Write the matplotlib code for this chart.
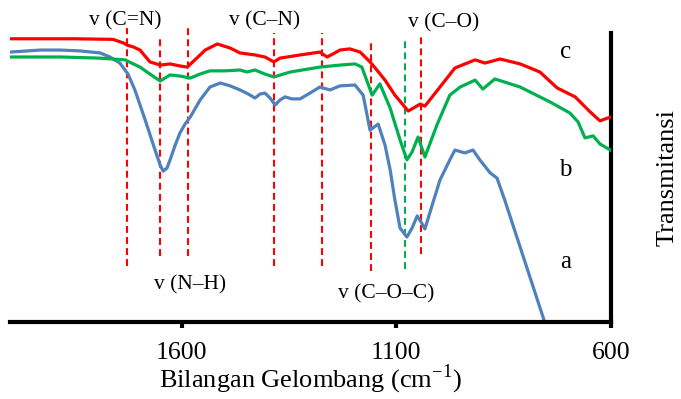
import numpy as np
import matplotlib
matplotlib.use('Agg')
import matplotlib.pyplot as plt

plt.rcParams['font.family'] = ['Liberation Serif', 'DejaVu Serif']
plt.rcParams['mathtext.fontset'] = 'custom'
plt.rcParams['mathtext.rm'] = 'Liberation Serif'

# Spektrum FTIR, transmitansi dalam satuan relatif
wn_c = [2000, 1850, 1760, 1735, 1727, 1713, 1697, 1674, 1650, 1627, 1604, 1587, 1569,
        1545, 1517, 1487, 1464, 1429, 1406, 1385, 1371, 1324, 1278, 1261, 1243, 1231,
        1208, 1184, 1161, 1149, 1126, 1103, 1072, 1044, 1033, 998, 963, 916, 893, 858,
        811, 765, 725, 683, 648, 625, 601]
t_c = [98.0, 98.0, 97.8, 96.5, 95.8, 95.2, 94.1, 90.0, 88.9, 89.3, 88.6, 88.2, 90.7,
       94.1, 96.2, 94.8, 93.1, 92.4, 91.7, 90.0, 91.3, 92.4, 93.4, 91.7, 93.1, 94.1,
       94.5, 93.4, 90.0, 87.9, 83.7, 78.5, 73.0, 75.4, 74.7, 81.3, 87.9, 90.7, 89.6, 91.0,
       89.3, 86.5, 81.0, 77.9, 72.7, 69.6, 70.9]

wn_b = [2000, 1883, 1790, 1732, 1697, 1674, 1650, 1627, 1604, 1580, 1557, 1534, 1499,
        1464, 1448, 1429, 1406, 1385, 1347, 1278, 1231, 1196, 1180, 1156, 1138, 1114,
        1091, 1075, 1063, 1049, 1033, 1005, 975, 951, 916, 898, 870, 811, 741, 695, 676,
        660, 641, 625, 601]
t_b = [91.7, 91.7, 91.3, 90.7, 88.2, 85.8, 83.4, 85.5, 85.1, 84.4, 85.8, 86.9, 86.9,
       87.2, 86.5, 87.2, 85.8, 84.8, 86.5, 88.2, 88.9, 89.3, 88.2, 78.5, 82.4, 74.0,
       63.0, 56.1, 58.8, 64.0, 57.1, 68.2, 78.5, 81.3, 83.7, 80.6, 84.1, 81.3, 76.1, 72.3,
       69.2, 63.7, 64.4, 61.6, 59.5]

wn_a = [2000, 1930, 1883, 1837, 1790, 1767, 1744, 1725, 1709, 1685, 1662, 1650, 1643,
        1634, 1627, 1615, 1604, 1592, 1580, 1557, 1534, 1510, 1487, 1464, 1445, 1429,
        1417, 1406, 1394, 1382, 1371, 1359, 1343, 1324, 1301, 1278, 1254, 1231, 1196,
        1177, 1161, 1142, 1126, 1114, 1103, 1091, 1075, 1063, 1051, 1042, 1033, 1016,
        998, 975, 963, 940, 921, 905, 881, 865, 847, 754, 742]
t_a = [93.4, 94.1, 94.1, 93.8, 93.1, 91.7, 89.6, 85.8, 80.3, 69.9, 59.5, 54.3, 52.2,
       53.3, 56.1, 61.2, 65.4, 68.5, 70.9, 76.8, 81.3, 82.7, 81.7, 80.3, 78.9, 77.5,
       78.9, 79.2, 77.5, 75.1, 76.8, 77.9, 77.2, 77.2, 79.2, 81.3, 80.3, 81.7, 82.0,
       78.5, 66.4, 68.5, 61.2, 52.6, 42.2, 32.5, 29.4, 32.5, 36.7, 34.6, 32.2, 40.5,
       49.1, 56.1, 59.5, 58.5, 59.5, 56.1, 51.6, 49.8, 42.2, 0.0, -4.8]

# garis bantu (pita serapan)
band_wn = [1727, 1650, 1585, 1385, 1273, 1159, 1042, 1079]
band_top = [101.7, 98.3, 101.7, 100.0, 100.0, 96.5, 99.0, 98.3]
band_bot = [19.4, 22.8, 22.8, 19.4, 19.4, 17.6, 23.5, 18.3]
band_col = ['#FF0000'] * 7 + ['#00B050']

labels = ['v (C=N)', 'v (C–N)', 'v (C–O)', 'v (N–H)', 'v (C–O–C)']
label_wn = [1732, 1406, 989, 1580, 1124]
label_t = [104.2, 104.2, 103.5, 12.8, 9.7]

names = ['c', 'b', 'a']
name_t = [93.4, 52.6, 20.8]

fig = plt.figure(figsize=(6.81, 3.99), dpi=100)
ax = fig.add_axes([0.0147, 0.193, 0.8821, 0.7243])

for x, y0, y1, col in zip(band_wn, band_bot, band_top, band_col):
    ax.plot([x, x], [y0, y1], color=col, lw=1.5, ls=(0, (3.3, 2)), clip_on=False, zorder=1)

ax.plot(wn_a, t_a, color='#4F81BD', lw=2.3, solid_joinstyle='round', zorder=2)
ax.plot(wn_b, t_b, color='#00B050', lw=2.3, solid_joinstyle='round', zorder=3)
ax.plot(wn_c, t_c, color='#FF0000', lw=2.3, solid_joinstyle='round', zorder=4)

for s, x, y in zip(labels, label_wn, label_t):
    ax.text(x, y, s, fontsize=15.5, ha='center', va='center', clip_on=False)
for s, y in zip(names, name_t):
    ax.text(706, y, s, fontsize=18, ha='center', va='center')

ax.set_xlim(2000, 600)
ax.set_ylim(0, 100)
ax.set_xticks([1600, 1100, 600])
ax.set_yticks([])
ax.tick_params(axis='x', direction='out', length=4, width=3, labelsize=18.5, pad=10.5)
for side in ['left', 'top']:
    ax.spines[side].set_visible(False)
ax.spines['bottom'].set_linewidth(3)
ax.spines['right'].set_linewidth(3)
ax.set_xlabel('Bilangan Gelombang (cm$^{-1}$)', fontsize=19, labelpad=-1)
ax.yaxis.set_label_position('right')
ax.set_ylabel('Transmitansi', fontsize=19, labelpad=33)

fig.savefig('out.png', dpi=100)
